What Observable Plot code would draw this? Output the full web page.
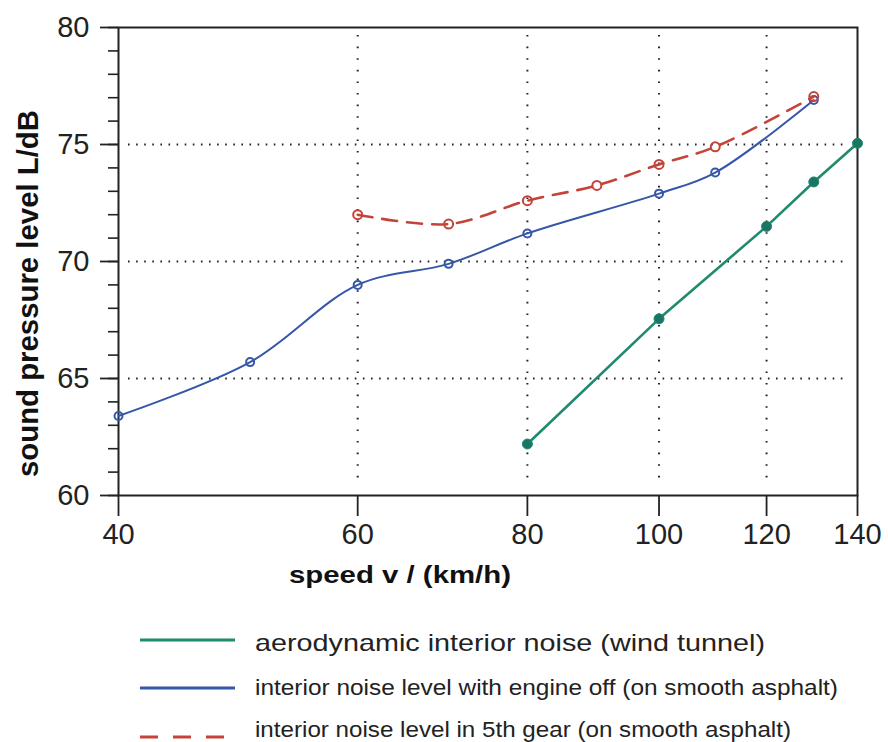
<!DOCTYPE html>
<html>
<head>
<meta charset="utf-8">
<script src="https://cdn.jsdelivr.net/npm/d3@7"></script>
<script src="https://cdn.jsdelivr.net/npm/@observablehq/plot@0.6"></script>
<style>
  html, body { margin: 0; padding: 0; background: #fff; }
  #chart { width: 888px; }
  svg { display: block; }
</style>
</head>
<body>
<div id="chart"></div>
<script>
// ---- data ----
const speedsAero = [80, 100, 120, 130, 140];
const levelAero  = [62.2, 67.55, 71.5, 73.4, 75.05];

const speedsOff = [40, 50, 60, 70, 80, 100, 110, 130];
const levelOff  = [63.4, 65.7, 69.0, 69.9, 71.2, 72.9, 73.8, 76.9];

const speeds5th = [60, 70, 80, 90, 100, 110, 130];
const level5th  = [72.0, 71.6, 72.6, 73.25, 74.15, 74.9, 77.05];

const xTicks = [40, 60, 80, 100, 120, 140];
const yTicks = [60, 65, 70, 75, 80];
const yMinorTicks = d3.range(60, 81, 1);
const xGrid = [60, 80, 100, 120];
const yGrid = [65, 70, 75];

const seriesNames = [
  "aerodynamic interior noise (wind tunnel)",
  "interior noise level with engine off (on smooth asphalt)",
  "interior noise level in 5th gear (on smooth asphalt)"
];
const xTitle = "speed v / (km/h)";
const yTitle = "sound pressure level L/dB";

const colGreen = "#1f8a6e", colGreenDot = "#1b7565";
const colBlue = "#3657a8";
const colRed = "#c4433a";

const aero = speedsAero.map((v, i) => ({v, L: levelAero[i]}));
const off  = speedsOff.map((v, i) => ({v, L: levelOff[i]}));
const g5   = speeds5th.map((v, i) => ({v, L: level5th[i]}));

const plot = Plot.plot({
  width: 888,
  height: 600,
  marginLeft: 118,
  marginRight: 31,
  marginTop: 27,
  marginBottom: 105,
  x: {type: "log", domain: [40, 140]},
  y: {domain: [60, 80]},
  style: {fontFamily: "'Liberation Sans', Arial, Helvetica, sans-serif", background: "#fff", color: "#222"},
  marks: [
    Plot.gridX(xGrid, {stroke: "#222", strokeOpacity: 1, strokeWidth: 2, strokeDasharray: "1.6,10", insetTop: 8, insetBottom: 8}),
    Plot.gridY(yGrid, {stroke: "#222", strokeOpacity: 1, strokeWidth: 2, strokeDasharray: "1.6,6.5", insetLeft: 10, insetRight: 10}),
    Plot.frame({stroke: "#222", strokeWidth: 2}),
    Plot.axisY(yMinorTicks, {tickSize: 10, strokeWidth: 1.6, tickFormat: () => "", label: null}),
    Plot.axisY(yTicks, {tickSize: 18, strokeWidth: 1.8, tickPadding: 11, fontSize: 29, label: null, tickFormat: d => d}),
    Plot.axisX(xTicks, {tickSize: 21, strokeWidth: 1.8, tickPadding: 7, fontSize: 29, label: null, tickFormat: d => d}),
    Plot.text([xTitle], {frameAnchor: "bottom", textAnchor: "middle", lineAnchor: "bottom", dx: -88, dy: 87, fontSize: 24, fontWeight: "bold", fill: "#111"}),
    Plot.text([yTitle], {frameAnchor: "left", textAnchor: "middle", lineAnchor: "middle", rotate: -90, dx: -90, dy: 32, fontSize: 30, fontWeight: "bold", fill: "#111"}),
    // aerodynamic (straight segments)
    Plot.line(aero, {x: "v", y: "L", stroke: colGreen, strokeWidth: 2.6}),
    Plot.dot(aero, {x: "v", y: "L", r: 5, fill: colGreenDot, stroke: colGreen, strokeWidth: 1}),
    // engine off (smooth)
    Plot.line(off, {x: "v", y: "L", stroke: colBlue, strokeWidth: 2, curve: "catmull-rom"}),
    Plot.dot(off, {x: "v", y: "L", r: 4, stroke: colBlue, strokeWidth: 2, fill: "none"}),
    // 5th gear (dashed, smooth)
    Plot.line(g5, {x: "v", y: "L", stroke: colRed, strokeWidth: 2.6, strokeDasharray: "15,10", curve: "catmull-rom"}),
    Plot.dot(g5, {x: "v", y: "L", r: 4.5, stroke: colRed, strokeWidth: 2, fill: "none"})
  ]
});

d3.select(plot).selectAll("text")
  .filter(function() { return this.textContent === xTitle; })
  .attr("textLength", 222).attr("lengthAdjust", "spacingAndGlyphs");
d3.select(plot).selectAll("text")
  .filter(function() { return this.textContent === yTitle; })
  .attr("textLength", 367).attr("lengthAdjust", "spacingAndGlyphs");

document.getElementById("chart").appendChild(plot);

// ---- legend ----
const legendColors = [colGreen, colBlue, colRed];
const legendDash = [null, null, "18,15"];
const legendLineY = [40, 88, 137];
const legendTextY = [51, 95, 137];
const legendFont = [24, 22, 22];
const legendWidth = [510, 583, 536];

const leg = d3.create("svg")
  .attr("width", 888).attr("height", 142)
  .style("background", "#fff")
  .style("font-family", "'Liberation Sans', Arial, Helvetica, sans-serif");

seriesNames.forEach((name, i) => {
  leg.append("line")
    .attr("x1", 140).attr("x2", 235)
    .attr("y1", legendLineY[i]).attr("y2", legendLineY[i])
    .attr("stroke", legendColors[i]).attr("stroke-width", 3)
    .attr("stroke-dasharray", legendDash[i]);
  leg.append("text")
    .attr("x", 255).attr("y", legendTextY[i])
    .attr("font-size", legendFont[i])
    .attr("fill", "#222")
    .attr("textLength", legendWidth[i])
    .attr("lengthAdjust", "spacingAndGlyphs")
    .text(name);
});

document.getElementById("chart").appendChild(leg.node());
</script>
</body>
</html>
